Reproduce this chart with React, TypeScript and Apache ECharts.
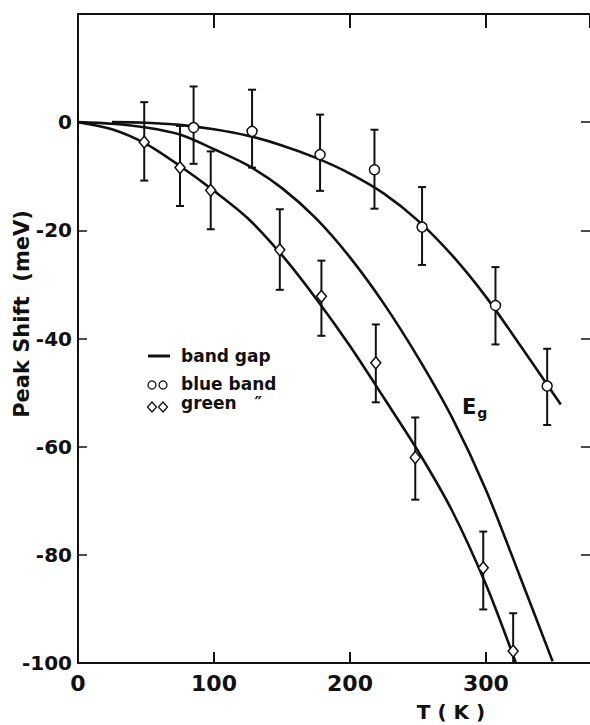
import React, { useEffect, useRef } from "react";
import * as echarts from "echarts";

// ---- Data ----
// band gap curve (Eg)
const gapT = [0, 25, 50, 75, 100, 125, 150, 175, 200, 225, 250, 275, 300, 325, 349];
const gapShift = [0, -0.3, -1.0, -2.3, -5.0, -8.0, -12.2, -17.8, -25.0, -33.6, -43.5, -54.6, -68.0, -84.0, -99.7];

// fitted curve through the blue band points
const blueCurveT = [25, 50, 75, 100, 125, 150, 175, 200, 225, 250, 275, 300, 325, 355];
const blueCurveShift = [0, -0.1, -0.5, -1.3, -2.5, -4.3, -6.6, -9.5, -13.2, -18.2, -24.6, -32.3, -41.2, -52.2];

// fitted curve through the green band points
const greenCurveT = [0, 25, 50, 75, 100, 125, 150, 175, 200, 225, 250, 275, 300, 322];
const greenCurveShift = [0, -1.3, -4.0, -8.1, -12.7, -17.8, -24.6, -32.6, -41.4, -51.0, -60.8, -71.8, -85.5, -100];

// blue band measurements (open circles)
const blueT = [85, 128, 178, 218, 253, 307, 345];
const blueShift = [-1, -1.7, -6, -8.8, -19.4, -33.9, -48.8];
const blueHigh = [6.6, 6.0, 1.4, -1.4, -12, -26.8, -41.9];
const blueLow = [-7.7, -8.4, -12.7, -16, -26.4, -41.1, -56];

// green band measurements (open diamonds)
const greenT = [48.7, 75, 97.6, 148.4, 179, 219, 248, 298, 320];
const greenShift = [-3.7, -8.4, -12.6, -23.6, -32.2, -44.5, -62, -82.4, -97.8];
const greenHigh = [3.7, -0.7, -5.4, -16.1, -25.6, -37.4, -54.6, -75.7, -90.8];
const greenLow = [-10.8, -15.5, -19.8, -31, -39.5, -51.8, -69.8, -90.1, -105];

const xTicks = [0, 100, 200, 300];
const yTicks = [0, -20, -40, -60, -80, -100];

const INK = "#111111";
const FONT = "DejaVu Sans";

function zip(a: number[], b: number[]) {
  return a.map((v, i) => [v, b[i]]);
}

function errorSeries(ts: number[], hi: number[], lo: number[]) {
  return {
    type: "custom",
    z: 3,
    clip: true,
    silent: true,
    data: ts.map((t, i) => [t, hi[i], lo[i]]),
    encode: { x: 0, y: [1, 2] },
    renderItem: (params: any, api: any) => {
      const t = api.value(0);
      const top = api.coord([t, api.value(1)]);
      const bot = api.coord([t, api.value(2)]);
      const cap = 4;
      const st = { stroke: INK, lineWidth: 2 };
      return {
        type: "group",
        children: [
          { type: "line", shape: { x1: top[0], y1: top[1], x2: bot[0], y2: bot[1] }, style: st },
          { type: "line", shape: { x1: top[0] - cap, y1: top[1], x2: top[0] + cap, y2: top[1] }, style: st },
          { type: "line", shape: { x1: bot[0] - cap, y1: bot[1], x2: bot[0] + cap, y2: bot[1] }, style: st },
        ],
      };
    },
  };
}

export default function App() {
  const ref = useRef<HTMLDivElement>(null);

  useEffect(() => {
    if (!ref.current) return;
    const chart = echarts.init(ref.current, undefined, { renderer: "svg" });
    const curveStyle = { color: INK, width: 2.6 };
    const option: any = {
      animation: false,
      backgroundColor: "#ffffff",
      grid: { left: 78, right: -2, top: 14, bottom: 62, containLabel: false },
      xAxis: [
        {
          type: "value",
          position: "bottom",
          min: 0,
          max: 376.5,
          interval: 100,
          axisLine: { show: true, onZero: false, lineStyle: { color: INK, width: 2 } },
          axisTick: { show: true, inside: true, length: 11, lineStyle: { color: INK, width: 2 } },
          axisLabel: {
            color: INK,
            fontFamily: FONT,
            fontWeight: "bold",
            fontSize: 22,
            margin: 9,
            showMaxLabel: false,
            formatter: (v: number) => (xTicks.indexOf(v) >= 0 ? String(v) : ""),
          },
          splitLine: { show: false },
        },
        {
          type: "value",
          position: "top",
          min: 0,
          max: 376.5,
          interval: 100,
          axisLine: { show: true, onZero: false, lineStyle: { color: INK, width: 2 } },
          axisTick: { show: true, inside: true, length: 14, lineStyle: { color: INK, width: 2 } },
          axisLabel: { show: false },
          splitLine: { show: false },
        },
      ],
      yAxis: [
        {
          type: "value",
          position: "left",
          min: -100,
          max: 20,
          interval: 20,
          axisLine: { show: true, onZero: false, lineStyle: { color: INK, width: 2 } },
          axisTick: { show: true, inside: true, length: 9, lineStyle: { color: INK, width: 1.5 } },
          axisLabel: {
            color: INK,
            fontFamily: FONT,
            fontWeight: "bold",
            fontSize: 20,
            margin: 6,
            formatter: (v: number) => (yTicks.indexOf(v) >= 0 ? String(v) : ""),
          },
          splitLine: { show: false },
        },
        {
          type: "value",
          position: "right",
          min: -100,
          max: 20,
          interval: 20,
          axisLine: { show: false, onZero: false },
          axisTick: { show: true, inside: true, length: 9, lineStyle: { color: INK, width: 1.5 } },
          axisLabel: { show: false },
          splitLine: { show: false },
        },
      ],
      series: [
        {
          name: "band gap",
          type: "line",
          data: zip(gapT, gapShift),
          smooth: 0.3,
          symbol: "none",
          lineStyle: curveStyle,
          z: 2,
        },
        {
          name: "blue fit",
          type: "line",
          data: zip(blueCurveT, blueCurveShift),
          smooth: 0.3,
          symbol: "none",
          lineStyle: curveStyle,
          z: 2,
        },
        {
          name: "green fit",
          type: "line",
          data: zip(greenCurveT, greenCurveShift),
          smooth: 0.3,
          symbol: "none",
          lineStyle: curveStyle,
          z: 2,
        },
        errorSeries(blueT, blueHigh, blueLow),
        errorSeries(greenT, greenHigh, greenLow),
        {
          name: "blue band",
          type: "scatter",
          data: zip(blueT, blueShift),
          symbol: "circle",
          symbolSize: 10,
          itemStyle: { color: "#ffffff", opacity: 1, borderColor: INK, borderWidth: 1.5 },
          z: 4,
        },
        {
          name: "green",
          type: "scatter",
          data: zip(greenT, greenShift),
          symbol: "diamond",
          symbolSize: [10, 12],
          itemStyle: { color: "#ffffff", opacity: 1, borderColor: INK, borderWidth: 1.5 },
          z: 4,
        },
      ],
      graphic: [
        {
          type: "text",
          x: 22,
          y: 314,
          rotation: Math.PI / 2,
          style: {
            text: "Peak Shift  (meV)",
            fill: INK,
            font: `bold 21px "${FONT}"`,
            align: "center",
            verticalAlign: "middle",
          },
        },
        {
          type: "text",
          x: 451,
          y: 712,
          style: {
            text: "T ( K )",
            fill: INK,
            font: `bold 20px "${FONT}"`,
            align: "center",
            verticalAlign: "middle",
          },
        },
        {
          type: "text",
          x: 462,
          y: 407,
          style: {
            text: "{e|E}{g|g}",
            fill: INK,
            rich: {
              e: { fontFamily: FONT, fontWeight: "bold", fontSize: 21, fill: INK, verticalAlign: "middle" },
              g: { fontFamily: FONT, fontWeight: "bold", fontSize: 14, fill: INK, padding: [12, 0, 0, 1] },
            },
            verticalAlign: "middle",
          },
        },
        // legend
        {
          type: "line",
          shape: { x1: 148, y1: 356, x2: 170, y2: 356 },
          style: { stroke: INK, lineWidth: 3 },
        },
        {
          type: "text",
          x: 181,
          y: 356,
          style: { text: "band gap", fill: INK, font: `bold 17px "${FONT}"`, verticalAlign: "middle" },
        },
        { type: "circle", shape: { cx: 152, cy: 385, r: 4 }, style: { fill: "#fff", stroke: INK, lineWidth: 1.3 } },
        { type: "circle", shape: { cx: 163, cy: 385, r: 4 }, style: { fill: "#fff", stroke: INK, lineWidth: 1.3 } },
        {
          type: "text",
          x: 181,
          y: 384,
          style: { text: "blue band", fill: INK, font: `bold 17px "${FONT}"`, verticalAlign: "middle" },
        },
        {
          type: "polygon",
          shape: { points: [[152, 402], [156.5, 407], [152, 412], [147.5, 407]] },
          style: { fill: "#fff", stroke: INK, lineWidth: 1.3 },
        },
        {
          type: "polygon",
          shape: { points: [[163, 402], [167.5, 407], [163, 412], [158.5, 407]] },
          style: { fill: "#fff", stroke: INK, lineWidth: 1.3 },
        },
        {
          type: "text",
          x: 181,
          y: 403,
          style: { text: "green   \u2033", fill: INK, font: `bold 17px "${FONT}"`, verticalAlign: "middle" },
        },
      ],
    };
    chart.setOption(option);
    return () => chart.dispose();
  }, []);

  return (
    <div
      ref={ref}
      style={{ position: "fixed", left: 0, top: 0, width: 590, height: 725, background: "#fff" }}
    />
  );
}
